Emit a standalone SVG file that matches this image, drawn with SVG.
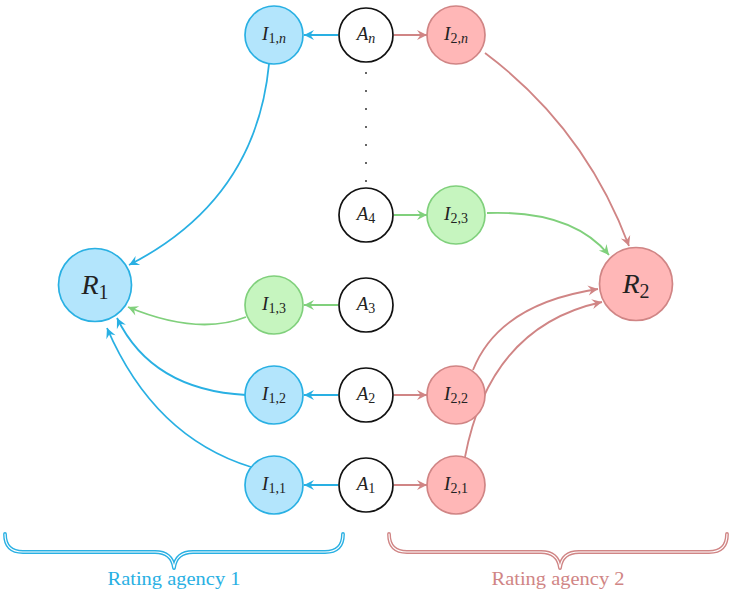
<svg xmlns="http://www.w3.org/2000/svg" width="729" height="591" viewBox="0 0 729 591">
<style>
.lbl{font-family:"Liberation Serif","DejaVu Serif",serif;fill:#222;text-anchor:middle}
.it{font-style:italic}
.blueN{fill:#b3e5fc;stroke:#29b0e3;stroke-width:1.7}
.redN{fill:#ffb7b7;stroke:#d08585;stroke-width:1.7}
.greenN{fill:#c6f5bf;stroke:#80d07c;stroke-width:1.7}
.aN{fill:#fff;stroke:#111;stroke-width:1.7}
.eb{fill:none;stroke:#29b0e3;stroke-width:1.8;marker-end:url(#mb)}
.er{fill:none;stroke:#d08585;stroke-width:1.8;marker-end:url(#mr)}
.eg{fill:none;stroke:#80d07c;stroke-width:1.8;marker-end:url(#mg)}
.brace{fill:none;stroke-width:3.8;stroke-linecap:round;stroke-linejoin:round}
.braceIn{fill:none;stroke:#fff;stroke-width:1.1;stroke-linecap:round;stroke-linejoin:round}
.cap{font-family:"Liberation Serif","DejaVu Serif",serif;font-size:18px;text-anchor:middle}
</style>
<defs>
<marker id="mb" viewBox="-11 -6 12 12" refX="0" refY="0" markerWidth="12" markerHeight="12" markerUnits="userSpaceOnUse" orient="auto"><path d="M0,0 L-10,-5 L-6.5,0 L-10,5 Z" fill="#29b0e3"/></marker>
<marker id="mr" viewBox="-11 -6 12 12" refX="0" refY="0" markerWidth="12" markerHeight="12" markerUnits="userSpaceOnUse" orient="auto"><path d="M0,0 L-10,-5 L-6.5,0 L-10,5 Z" fill="#d08585"/></marker>
<marker id="mg" viewBox="-11 -6 12 12" refX="0" refY="0" markerWidth="12" markerHeight="12" markerUnits="userSpaceOnUse" orient="auto"><path d="M0,0 L-10,-5 L-6.5,0 L-10,5 Z" fill="#80d07c"/></marker>
</defs>

<g id="connectors">
<path class="eb" d="M338,35 L304,35"/>
<path class="er" d="M394,35 L427,35"/>
<path class="eg" d="M394,215 L427,215"/>
<path class="eg" d="M338,305 L304,305"/>
<path class="eb" d="M338,395 L304,395"/>
<path class="er" d="M394,395 L427,395"/>
<path class="eb" d="M338,485 L304,485"/>
<path class="er" d="M394,485 L427,485"/>
<path class="eb" d="M269,64 Q256,200 129,265"/>
<path class="er" d="M485,53 Q585,128 629,246"/>
<path class="eg" d="M487,213 Q572,210 609,255"/>
<path class="eg" d="M246,317 Q198,336 128,307"/>
<path class="eb" d="M246,395 Q152,390 117,318"/>
<path class="eb" d="M251,467 Q154,437 107,328"/>
<path class="er" d="M473,370 Q499,304 598,289"/>
<path class="er" d="M465,457 Q490,326 602,302"/>
</g>

<g id="dots" fill="#333">
<circle cx="366" cy="73" r="1"/><circle cx="366" cy="91" r="1"/><circle cx="366" cy="109" r="1"/><circle cx="366" cy="127" r="1"/><circle cx="366" cy="145" r="1"/><circle cx="366" cy="163" r="1"/><circle cx="366" cy="181" r="1"/>
</g>

<g id="R1"><circle class="blueN" cx="95" cy="285" r="36.5"/><text class="lbl" x="95" y="294" font-size="28"><tspan class="it">R</tspan><tspan font-size="20" dy="5">1</tspan></text></g>
<g id="R2"><circle class="redN" cx="636" cy="284" r="36.5"/><text class="lbl" x="636" y="293" font-size="28"><tspan class="it">R</tspan><tspan font-size="20" dy="5">2</tspan></text></g>

<g id="I1n"><circle class="blueN" cx="274" cy="35" r="29"/><text class="lbl" x="274" y="40" font-size="19"><tspan class="it">I</tspan><tspan font-size="14" dy="3">1,</tspan><tspan font-size="14" class="it">n</tspan></text></g>
<g id="An"><circle class="aN" cx="366" cy="35" r="27"/><text class="lbl" x="366" y="40" font-size="19"><tspan class="it">A</tspan><tspan font-size="14" dy="3" class="it">n</tspan></text></g>
<g id="I2n"><circle class="redN" cx="456" cy="35" r="29"/><text class="lbl" x="456" y="40" font-size="19"><tspan class="it">I</tspan><tspan font-size="14" dy="3">2,</tspan><tspan font-size="14" class="it">n</tspan></text></g>

<g id="A4"><circle class="aN" cx="366" cy="215" r="27"/><text class="lbl" x="366" y="220" font-size="19"><tspan class="it">A</tspan><tspan font-size="14" dy="3">4</tspan></text></g>
<g id="I23"><circle class="greenN" cx="456" cy="215" r="29"/><text class="lbl" x="456" y="220" font-size="19"><tspan class="it">I</tspan><tspan font-size="14" dy="3">2,3</tspan></text></g>

<g id="I13"><circle class="greenN" cx="274" cy="305" r="29"/><text class="lbl" x="274" y="310" font-size="19"><tspan class="it">I</tspan><tspan font-size="14" dy="3">1,3</tspan></text></g>
<g id="A3"><circle class="aN" cx="366" cy="305" r="27"/><text class="lbl" x="366" y="310" font-size="19"><tspan class="it">A</tspan><tspan font-size="14" dy="3">3</tspan></text></g>

<g id="I12"><circle class="blueN" cx="274" cy="395" r="29"/><text class="lbl" x="274" y="400" font-size="19"><tspan class="it">I</tspan><tspan font-size="14" dy="3">1,2</tspan></text></g>
<g id="A2"><circle class="aN" cx="366" cy="395" r="27"/><text class="lbl" x="366" y="400" font-size="19"><tspan class="it">A</tspan><tspan font-size="14" dy="3">2</tspan></text></g>
<g id="I22"><circle class="redN" cx="456" cy="395" r="29"/><text class="lbl" x="456" y="400" font-size="19"><tspan class="it">I</tspan><tspan font-size="14" dy="3">2,2</tspan></text></g>

<g id="I11"><circle class="blueN" cx="274" cy="485" r="29"/><text class="lbl" x="274" y="490" font-size="19"><tspan class="it">I</tspan><tspan font-size="14" dy="3">1,1</tspan></text></g>
<g id="A1"><circle class="aN" cx="366" cy="485" r="27"/><text class="lbl" x="366" y="490" font-size="19"><tspan class="it">A</tspan><tspan font-size="14" dy="3">1</tspan></text></g>
<g id="I21"><circle class="redN" cx="456" cy="485" r="29"/><text class="lbl" x="456" y="490" font-size="19"><tspan class="it">I</tspan><tspan font-size="14" dy="3">2,1</tspan></text></g>

<g id="agency1">
<path class="brace" stroke="#29b0e3" d="M5,534 Q5,552 23,552 L155,552 Q172,552 174,568 Q176,552 193,552 L325,552 Q343,552 343,534"/>
<path class="braceIn" d="M5,534 Q5,552 23,552 L155,552 Q172,552 174,568 Q176,552 193,552 L325,552 Q343,552 343,534"/>
<text class="cap" x="174" y="585" fill="#29b0e3" textLength="133" lengthAdjust="spacingAndGlyphs">Rating agency 1</text>
</g>
<g id="agency2">
<path class="brace" stroke="#d08585" d="M389,534 Q389,552 407,552 L541,552 Q558,552 560,568 Q562,552 579,552 L709,552 Q727,552 727,534"/>
<path class="braceIn" d="M389,534 Q389,552 407,552 L541,552 Q558,552 560,568 Q562,552 579,552 L709,552 Q727,552 727,534"/>
<text class="cap" x="558" y="585" fill="#d08585" textLength="133" lengthAdjust="spacingAndGlyphs">Rating agency 2</text>
</g>
</svg>
